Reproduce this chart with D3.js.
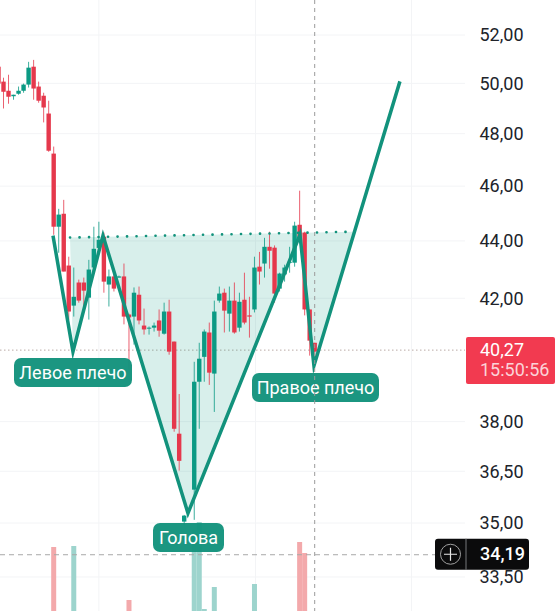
<!DOCTYPE html>
<html><head><meta charset="utf-8">
<script src="https://cdn.jsdelivr.net/npm/d3@7/dist/d3.min.js"></script>
<style>html,body{margin:0;padding:0;background:#fff;overflow:hidden}svg{display:block}</style>
</head><body><svg id="c" width="560" height="611"></svg>
<script>
// Candle data, starting at bar index -1 (null = bar not readable)
const firstBar = -1;
const opens = [50.68,50.07,49.70,49.48,49.58,49.70,49.95,50.68,49.87,49.50,48.79,47.23,44.51,44.98,43.13,41.75,42.54,42.54,42.02,43.06,43.75,44.15,42.47,42.75,42.71,42.75,41.45,41.38,42.12,41.08,40.98,41.01,41.25,40.81,41.55,40.55,37.63,35.04,null,35.96,39.25,40.05,40.85,39.51,41.92,42.19,41.48,41.92,41.01,41.95,41.42,41.62,43.09,43.20,43.79,43.76,42.33,42.82,43.23,43.23,44.58,44.30,41.62,40.51];
const highs = [50.72,50.23,50.35,49.54,49.87,49.99,50.88,50.96,50.07,49.62,49.30,47.50,45.16,45.49,43.44,43.06,42.64,42.71,43.33,44.51,44.69,44.30,42.99,42.82,42.78,43.20,41.48,42.37,42.40,41.65,41.05,41.18,41.62,41.85,41.95,40.55,38.86,35.23,null,39.89,40.51,40.95,41.18,41.92,42.40,42.33,42.40,42.54,42.19,42.88,42.05,43.44,43.61,44.11,44.33,43.84,42.88,43.16,43.79,44.69,45.83,44.33,41.62,40.51];
const lows = [49.03,48.99,49.18,49.34,49.54,49.62,49.83,49.34,49.22,48.44,47.30,44.22,43.58,42.92,41.28,41.38,41.85,41.72,41.28,42.88,43.58,42.19,41.72,42.23,42.71,41.12,39.64,40.45,41.12,40.78,40.78,40.88,40.71,40.78,40.12,37.69,36.52,34.95,null,35.09,37.78,39.25,39.15,38.30,41.85,40.85,40.88,40.81,40.88,41.12,40.68,41.52,42.47,42.71,43.02,41.85,42.23,42.57,42.88,43.09,44.04,41.42,40.09,40.05];
const closes = [49.99,49.66,49.46,49.54,49.70,49.95,50.64,49.79,49.30,49.03,47.34,44.51,44.95,42.92,41.55,42.05,41.92,42.26,42.99,43.72,44.04,42.57,42.75,42.33,42.75,41.38,41.35,42.19,41.25,40.95,41.01,41.08,40.91,41.55,40.22,37.78,36.81,35.21,null,39.25,39.99,40.88,39.54,41.55,42.16,41.58,41.92,40.85,41.88,41.18,41.38,43.06,42.92,43.79,43.65,42.16,42.85,43.06,43.26,44.55,44.08,41.62,40.58,40.22];

// Volume bars
const volumeBars = [10,14,25,38,39,40,42,50,59,60];
const volumes = [83,84,30,100,108,21,43,46,88,77];
const volumeUp = [false,true,false,true,true,true,true,true,false,false];

// Inverse head and shoulders pattern
const patternBars = [9.86,13.84,19.82,36.75,59.06,61.85,78.98];
const patternPrices = [44.19,40.22,44.19,35.28,44.22,39.76,50.08];
const neckBars = [13.25,69.6];
const neckPrices = [44.12,44.33];
const fillBars = [13.25,13.84,19.82,36.75,59.06,61.85,69.6];
const fillPrices = [44.12,40.22,44.19,35.28,44.22,39.76,44.33];

const tickPrices = [52,50,48,46,44,42,38,36.5,35,33.5];
const gridBars = [19,50.2,81.3];
const lastPrice = 40.27;
const crossPrice = 34.19;
const crossLevel = 34.11; // level at which the crosshair line is drawn in the picture
const crossBar = 62;
const countdown = "15:50:56";
const annotations = [
  {text:"Левое плечо", x0:14, x1:132, y0:358, y1:387},
  {text:"Голова", x0:153, x1:224, y0:523, y1:552},
  {text:"Правое плечо", x0:252, x1:379, y0:373, y1:402}
];

const UP = "#0b9a84", DOWN = "#e5384c", PAT = "#12927c";
const FONT = "Roboto, sans-serif";
const svg = d3.select("#c");
const x = d3.scaleLinear().domain([0,62]).range([3.5,314.7]);
const y = d3.scaleLog().domain([35,52]).range([523,35]);
const yv = d3.scaleLinear().domain([0,100]).range([630,530]);
const fmt = v => d3.format(".2f")(v).replace(".",",");

// grid
svg.append("g").selectAll("line").data(tickPrices).join("line")
  .attr("x1",0).attr("x2",465).attr("y1",d=>y(d)).attr("y2",d=>y(d))
  .attr("stroke","#f3f4f6").attr("stroke-width",1);
svg.append("g").selectAll("line").data(gridBars).join("line")
  .attr("x1",d=>x(d)).attr("x2",d=>x(d)).attr("y1",0).attr("y2",611)
  .attr("stroke","#f3f4f6").attr("stroke-width",1);

// volumes
svg.append("g").selectAll("rect").data(volumes).join("rect")
  .attr("x",(d,i)=>x(volumeBars[i])-2.5).attr("width",5)
  .attr("y",d=>yv(d)).attr("height",d=>611-yv(d))
  .attr("fill",(d,i)=>volumeUp[i]?"#9dd4cd":"#f3a9ab");

// last price line
svg.append("line").attr("x1",0).attr("x2",465).attr("y1",y(lastPrice)).attr("y2",y(lastPrice))
  .attr("stroke","#b9a9a5").attr("stroke-width",1).attr("stroke-dasharray","1.5 2.5");

// fill
svg.append("polygon")
  .attr("points",fillBars.map((b,i)=>[x(b),y(fillPrices[i])].join(",")).join(" "))
  .attr("fill","#0b9a84").attr("fill-opacity",.16);

// candles
const bars = opens.map((o,i)=>({i:i+firstBar,o,h:highs[i],l:lows[i],c:closes[i]})).filter(d=>d.o!==null);
const col = d=>d.c>=d.o?UP:DOWN;
const cg = svg.append("g");
cg.selectAll("line").data(bars).join("line")
  .attr("x1",d=>x(d.i)).attr("x2",d=>x(d.i)).attr("y1",d=>y(d.h)).attr("y2",d=>y(d.l))
  .attr("stroke",col).attr("stroke-width",1).attr("stroke-opacity",.8);
cg.selectAll("rect").data(bars).join("rect")
  .attr("x",d=>x(d.i)-2.2).attr("width",4.4)
  .attr("y",d=>y(Math.max(d.o,d.c)))
  .attr("height",d=>Math.max(1,Math.abs(y(d.o)-y(d.c))))
  .attr("fill",col);

// neckline
svg.append("path")
  .attr("d",d3.line()(neckBars.map((b,i)=>[x(b),y(neckPrices[i])])))
  .attr("fill","none").attr("stroke",PAT).attr("stroke-width",2.6)
  .attr("stroke-dasharray","0.1 9.4").attr("stroke-linecap","round");

// pattern line
svg.append("path")
  .attr("d",d3.line()(patternBars.map((b,i)=>[x(b),y(patternPrices[i])])))
  .attr("fill","none").attr("stroke",PAT).attr("stroke-width",3.5)
  .attr("stroke-linejoin","miter").attr("stroke-miterlimit",6);

// annotations
const ag = svg.append("g").selectAll("g").data(annotations).join("g");
ag.append("rect").attr("x",d=>d.x0).attr("y",d=>d.y0)
  .attr("width",d=>d.x1-d.x0).attr("height",d=>d.y1-d.y0)
  .attr("rx",7).attr("fill",PAT).attr("fill-opacity",.96);
ag.append("text").attr("x",d=>(d.x0+d.x1)/2).attr("y",d=>(d.y0+d.y1)/2+6)
  .attr("text-anchor","middle").attr("fill","#fff")
  .style("font",`18px ${FONT}`).text(d=>d.text);

// crosshair
svg.append("line").attr("x1",x(crossBar)).attr("x2",x(crossBar)).attr("y1",0).attr("y2",611)
  .attr("stroke","#9a9a9a").attr("stroke-width",1).attr("stroke-dasharray","4 4");
svg.append("line").attr("x1",0).attr("x2",435).attr("y1",y(crossLevel)).attr("y2",y(crossLevel))
  .attr("stroke","#a8a8a8").attr("stroke-width",1).attr("stroke-dasharray","5 4");

// price axis
const axis = d3.axisRight(y).tickValues(tickPrices).tickSize(0).tickPadding(0).tickFormat(fmt);
const ax = svg.append("g").attr("transform","translate(479.5,0)").call(axis);
ax.select(".domain").remove();
ax.selectAll("text").attr("fill","#20232a").style("font",`18px ${FONT}`);

// last price label
const ly = y(lastPrice);
svg.append("rect").attr("x",466).attr("y",ly-13).attr("width",89).attr("height",47).attr("rx",2).attr("fill","#f23a50");
svg.append("text").attr("x",480).attr("y",ly+6).attr("fill","#fff").style("font",`18px ${FONT}`).text(fmt(lastPrice));
svg.append("text").attr("x",480).attr("y",ly+26).attr("fill","#fbd3d8").style("font",`18px ${FONT}`).text(countdown);

// cross price label
const cy = y(crossLevel);
svg.append("rect").attr("x",435).attr("y",cy-16).attr("width",94).attr("height",31).attr("rx",3).attr("fill","#0b0b0c");
svg.append("line").attr("x1",466).attr("x2",466).attr("y1",cy-16).attr("y2",cy+15).attr("stroke","#77787a");
svg.append("circle").attr("cx",450.5).attr("cy",cy-.5).attr("r",10).attr("fill","none").attr("stroke","#a0a0a0");
svg.append("path").attr("d",`M444 ${cy-.5}H457M450.5 ${cy-7}V${cy+6}`).attr("stroke","#e8e8e8").attr("stroke-width",1.2);
svg.append("text").attr("x",480).attr("y",cy+5.5).attr("fill","#fff").style("font",`500 18px ${FONT}`).text(fmt(crossPrice));
</script></body></html>
